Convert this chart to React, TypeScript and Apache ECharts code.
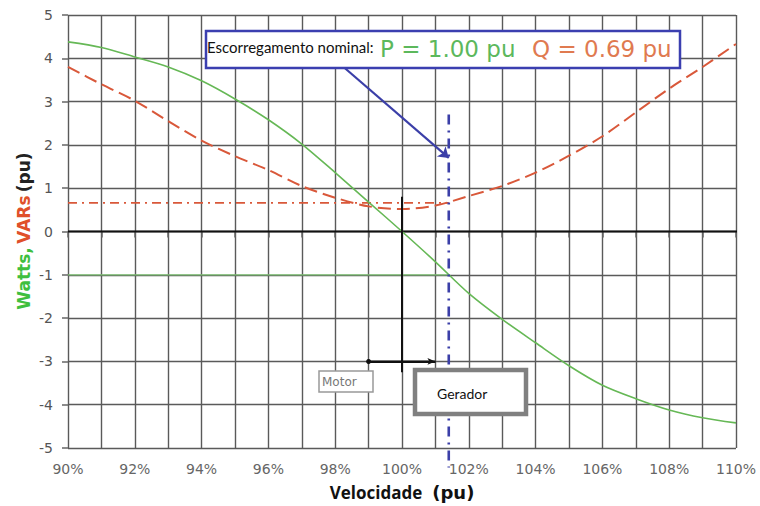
import React, { useEffect, useRef } from "react";
import * as echarts from "echarts";

const speedPct = [90, 91, 92, 93, 94, 95, 96, 97, 98, 99, 100, 101, 102, 103, 104, 105, 106, 107, 108, 109, 110];
const pWatts = [4.38, 4.25, 4.03, 3.8, 3.48, 3.06, 2.58, 2.02, 1.36, 0.68, 0, -0.7, -1.43, -2.03, -2.57, -3.1, -3.55, -3.86, -4.12, -4.3, -4.42];
const qVars = [3.8, 3.4, 3.02, 2.55, 2.1, 1.74, 1.42, 1.05, 0.78, 0.58, 0.52, 0.6, 0.82, 1.05, 1.36, 1.75, 2.2, 2.75, 3.3, 3.8, 4.33];

const nominalSpeed = 101.4;
const pMotorRef = -1;
const qNominalLevel = 0.66;
const blueLineRange = [2.7, -5.45];
const arrowStart = [98.25, 3.8];
const arrowEnd = [101.4, 1.7];
const syncLine = [0.8, -3.25];
const motorArrow = [99, 101];
const motorArrowLevel = -3;
const zeroLineRange = [90, 110.75];

const yTicks = [-5, -4, -3, -2, -1, 0, 1, 2, 3, 4, 5];

export default function App() {
  const ref = useRef<HTMLDivElement>(null);
  useEffect(() => {
    const chart = echarts.init(ref.current!, null, { renderer: "svg" });
    const green = "#66b856";
    const red = "#d9583a";
    const blue = "#3b3fa8";
    const option: any = {
      animation: false,
      backgroundColor: "#ffffff",
      grid: { left: 68, right: 24, top: 15, bottom: 52 },
      xAxis: {
        type: "value",
        min: 90,
        max: 110,
        interval: 1,
        axisLine: { show: false },
        axisTick: { show: true, length: 6, lineStyle: { color: "#666", width: 1.5 } },
        splitLine: { show: true, lineStyle: { color: "#5a5a5a", width: 1.4 } },
        axisLabel: {
          margin: 14,
          color: "#666",
          fontFamily: "DejaVu Sans",
          fontSize: 14,
          formatter: (v: number) => (Math.round(v) % 2 === 0 ? Math.round(v) + "%" : ""),
        },
        name: "{a|Velocidade}   {b|(pu)}",
        nameLocation: "middle",
        nameGap: 35,
        nameTextStyle: {
          rich: {
            a: { fontFamily: "Open Sans", fontWeight: "bold", fontSize: 17, color: "#111" },
            b: { fontFamily: "DejaVu Sans", fontWeight: "bold", fontSize: 18, color: "#111" },
          },
        },
      },
      yAxis: {
        type: "value",
        min: yTicks[0],
        max: yTicks[yTicks.length - 1],
        interval: 1,
        axisLine: { show: false },
        axisTick: { show: true, length: 6, lineStyle: { color: "#666", width: 1.5 } },
        splitLine: { show: true, lineStyle: { color: "#5a5a5a", width: 1.4 } },
        axisLabel: { margin: 15, color: "#555", fontFamily: "DejaVu Sans", fontSize: 14 },
      },
      graphic: [
        {
          type: "text",
          x: 24,
          y: 231,
          rotation: Math.PI / 2,
          style: {
            text: "{g|Watts,} {r|VARs} {k|(pu)}",
            align: "center",
            verticalAlign: "middle",
            rich: {
              g: { fontFamily: "DejaVu Sans", fontWeight: "bold", fontSize: 17, fill: "#3fbf3f" },
              r: { fontFamily: "DejaVu Sans", fontWeight: "bold", fontSize: 17, fill: "#e0502a" },
              k: { fontFamily: "DejaVu Sans", fontWeight: "bold", fontSize: 17, fill: "#222" },
            },
          },
        },
        {
          type: "rect",
          shape: { x: 206, y: 31, width: 474, height: 37 },
          style: { fill: "#fff", stroke: "#3b3fb0", lineWidth: 2.5 },
          z: 100,
        },
        {
          type: "text",
          x: 207,
          y: 47,
          z: 101,
          style: { text: "Escorregamento nominal:", fontFamily: "Lato", fontSize: 15, fill: "#111", verticalAlign: "middle" },
        },
        {
          type: "text",
          x: 380,
          y: 49,
          z: 101,
          style: { text: "P = 1.00 pu", fontFamily: "DejaVu Sans", fontSize: 23, fill: "#5cb85c", verticalAlign: "middle" },
        },
        {
          type: "text",
          x: 532,
          y: 49,
          z: 101,
          style: { text: "Q = 0.69 pu", fontFamily: "DejaVu Sans", fontSize: 23, fill: "#e07a50", verticalAlign: "middle" },
        },
        {
          type: "rect",
          shape: { x: 319, y: 371, width: 54, height: 21 },
          style: { fill: "#fff", stroke: "#999", lineWidth: 1.5 },
          z: 100,
        },
        {
          type: "text",
          x: 322,
          y: 382,
          z: 101,
          style: { text: "Motor", fontFamily: "DejaVu Sans", fontSize: 12, fill: "#777", verticalAlign: "middle" },
        },
        {
          type: "rect",
          shape: { x: 415, y: 370, width: 111, height: 44 },
          style: { fill: "#fff", stroke: "#808080", lineWidth: 4.5 },
          z: 100,
        },
        {
          type: "text",
          x: 437,
          y: 393,
          z: 101,
          style: { text: "Gerador", fontFamily: "Lato", fontSize: 14, fill: "#111", verticalAlign: "middle" },
        },
      ],
      series: [
        {
          type: "line",
          name: "zero",
          data: [[zeroLineRange[0], 0], [zeroLineRange[1], 0]],
          clip: false,
          symbol: "none",
          lineStyle: { color: "#111", width: 2 },
          z: 3,
        },
        {
          type: "line",
          name: "Q ref",
          data: [[speedPct[0], qNominalLevel], [nominalSpeed, qNominalLevel]],
          symbol: "none",
          lineStyle: { color: red, width: 1.8, type: [9, 5, 2, 5] },
          z: 4,
        },
        {
          type: "line",
          name: "P ref",
          data: [[speedPct[0], pMotorRef], [nominalSpeed, pMotorRef]],
          symbol: "none",
          lineStyle: { color: "#7bbf70", width: 1.3 },
          z: 4,
        },
        {
          type: "line",
          name: "P",
          data: speedPct.map((x, i) => [x, pWatts[i]]),
          smooth: 0.3,
          symbol: "none",
          lineStyle: { color: green, width: 1.6 },
          z: 5,
        },
        {
          type: "line",
          name: "Q",
          data: speedPct.map((x, i) => [x, qVars[i]]),
          smooth: 0.3,
          symbol: "none",
          lineStyle: { color: red, width: 2, type: [13, 6] },
          z: 5,
        },
        {
          type: "line",
          name: "sync",
          data: [[100, syncLine[0]], [100, syncLine[1]]],
          symbol: "none",
          lineStyle: { color: "#111", width: 2 },
          z: 6,
        },
        {
          type: "line",
          name: "motor arrow",
          data: [[motorArrow[0], motorArrowLevel], [motorArrow[1], motorArrowLevel]],
          symbol: "none",
          lineStyle: { color: "#111", width: 2 },
          z: 6,
          markLine: {
            silent: true,
            symbol: ["circle", "arrow"],
            symbolSize: [5, 8],
            label: { show: false },
            lineStyle: { color: "#111", width: 2, type: "solid" },
            data: [[{ coord: [motorArrow[0], motorArrowLevel] }, { coord: [motorArrow[1], motorArrowLevel] }]],
          },
        },
        {
          type: "line",
          name: "nominal",
          data: [[nominalSpeed, blueLineRange[0]], [nominalSpeed, blueLineRange[1]]],
          clip: false,
          symbol: "none",
          lineStyle: { color: blue, width: 2.6, type: [10, 6, 2, 6] },
          z: 7,
          markLine: {
            silent: true,
            symbol: ["none", "arrow"],
            symbolSize: 10,
            label: { show: false },
            lineStyle: { color: blue, width: 2.2, type: "solid" },
            data: [[{ coord: arrowStart }, { coord: arrowEnd }]],
          },
        },
      ],
    };
    chart.setOption(option);
    return () => chart.dispose();
  }, []);
  return <div ref={ref} style={{ width: 760, height: 506, position: "absolute", left: 0, top: 0 }} />;
}
